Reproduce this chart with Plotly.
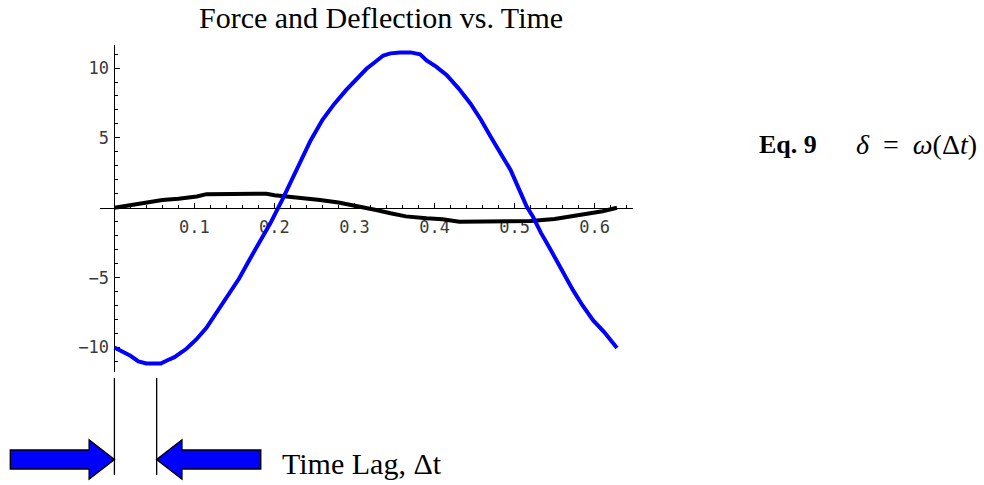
import plotly.graph_objects as go

W, H = 984, 485

# ---- data ---------------------------------------------------------------
t_force = [0.000, 0.010, 0.020, 0.030, 0.040, 0.050, 0.058, 0.065, 0.075,
           0.090, 0.102, 0.115, 0.127, 0.140, 0.156, 0.170, 0.185, 0.195,
           0.210, 0.231, 0.245, 0.260, 0.275, 0.290, 0.305, 0.315, 0.325,
           0.336, 0.345, 0.357, 0.370, 0.382, 0.390, 0.402, 0.415, 0.430,
           0.445, 0.458, 0.470, 0.483, 0.495, 0.505, 0.515, 0.523, 0.533,
           0.544, 0.558, 0.573, 0.585, 0.598, 0.612, 0.628]
force = [-10.0, -10.3, -10.6, -11.0, -11.15, -11.15, -11.15, -10.95, -10.7,
         -10.1, -9.45, -8.6, -7.55, -6.4, -5.05, -3.6, -2.05, -1.1,
         0.6, 3.2, 4.8, 6.3, 7.45, 8.45, 9.3, 9.95, 10.4,
         10.9, 11.05, 11.12, 11.12, 10.98, 10.55, 10.1, 9.5, 8.55,
         7.45, 6.3, 5.1, 3.9, 2.7, 1.4, 0.1, -0.65, -1.8,
         -2.9, -4.4, -5.9, -7.0, -8.05, -8.9, -10.05]

t_defl = [0.000, 0.020, 0.040, 0.060, 0.080, 0.103, 0.115, 0.140, 0.165,
          0.190, 0.200, 0.230, 0.257, 0.280, 0.299, 0.327, 0.345, 0.364,
          0.390, 0.410, 0.431, 0.460, 0.490, 0.520, 0.550, 0.587, 0.610,
          0.628]
deflection = [0.0, 0.2, 0.4, 0.55, 0.65, 0.8, 0.97, 1.0, 1.0,
              1.0, 0.9, 0.75, 0.55, 0.38, 0.19, -0.16, -0.4, -0.62,
              -0.75, -0.82, -1.0, -1.0, -1.0, -0.95, -0.8, -0.47, -0.25,
              0.0]

x_ticks = [0.1, 0.2, 0.3, 0.4, 0.5, 0.6]
x_tick_text = ["0.1", "0.2", "0.3", "0.4", "0.5", "0.6"]
y_ticks = [-10, -5, 5, 10]
y_tick_text = ["\u221210", "\u22125", "5", "10"]

time_lag = 0.0528

# ---- layout geometry ----------------------------------------------------
x_range = [-0.018, 0.648]
y_range = [-11.76, 11.65]
x_dom = [100 / W, 633 / W]
y_dom = [1 - 372 / H, 1 - 45 / H]

# axes cross at the origin
x_axis_pos = y_dom[0] + (0 - y_range[0]) / (y_range[1] - y_range[0]) * (y_dom[1] - y_dom[0])
y_axis_pos = x_dom[0] + (0 - x_range[0]) / (x_range[1] - x_range[0]) * (x_dom[1] - x_dom[0])

# lower strip shares the time scale of the main plot, spanning the full width
t_per_px = (x_range[1] - x_range[0]) / ((x_dom[1] - x_dom[0]) * W)
x2_range = [x_range[0] - x_dom[0] * W * t_per_px,
            x_range[1] + (1 - x_dom[1]) * W * t_per_px]
strip_top = 1 - 376 / H

tick_font = dict(family="DejaVu Sans Mono", size=17, color="#3a3a3a")
serif = "Liberation Serif"

fig = go.Figure()

fig.add_trace(go.Scatter(x=t_defl, y=deflection, mode="lines",
                         line=dict(color="black", width=4),
                         xaxis="x", yaxis="y", showlegend=False))
fig.add_trace(go.Scatter(x=t_force, y=force, mode="lines",
                         line=dict(color="#0000FF", width=4),
                         xaxis="x", yaxis="y", showlegend=False))

# ---- time-lag markers in the lower strip -------------------------------
shapes = []
for tx in (0.0, time_lag):
    shapes.append(dict(type="line", xref="x2", yref="y2",
                       x0=tx, x1=tx, y0=0.092, y1=0.982,
                       line=dict(color="black", width=1.3)))

yc, sh, hh = 0.234, 0.087, 0.179
head, tail = 0.0315, 0.130
left_arrow = (f"M {-tail},{yc - sh} L {-head},{yc - sh} L {-head},{yc - hh} "
              f"L 0,{yc} L {-head},{yc + hh} L {-head},{yc + sh} L {-tail},{yc + sh} Z")
r0 = time_lag
right_arrow = (f"M {r0 + tail},{yc - sh} L {r0 + head},{yc - sh} L {r0 + head},{yc - hh} "
               f"L {r0},{yc} L {r0 + head},{yc + hh} L {r0 + head},{yc + sh} L {r0 + tail},{yc + sh} Z")
for p in (left_arrow, right_arrow):
    shapes.append(dict(type="path", xref="x2", yref="y2", path=p,
                       fillcolor="#0000FF", line=dict(color="black", width=1.5)))

annotations = [
    dict(text="Time Lag, \u0394t", xref="x2", yref="paper",
         x=0.207, y=1 - 463 / H, xanchor="left", yanchor="middle",
         showarrow=False, font=dict(family=serif, size=30, color="black")),
    dict(text="<b>Eq. 9</b>", xref="paper", yref="paper",
         x=757 / W, y=1 - 144 / H, xanchor="left", yanchor="middle",
         showarrow=False, font=dict(family=serif, size=26, color="black")),
    dict(text="<i>\u03b4</i>\u00a0\u00a0=\u00a0\u00a0<i>\u03c9</i>(\u0394<i>t</i>)",
         xref="paper", yref="paper",
         x=854 / W, y=1 - 144 / H, xanchor="left", yanchor="middle",
         showarrow=False, font=dict(family=serif, size=28, color="black")),
]

fig.update_layout(
    width=W, height=H,
    margin=dict(l=0, r=0, t=0, b=0),
    paper_bgcolor="white", plot_bgcolor="white",
    title=dict(text="Force and Deflection vs. Time", xref="paper", yref="paper",
               x=199 / W, xanchor="left", y=1 - 17 / H, yanchor="middle",
               font=dict(family=serif, size=30, color="black")),
    xaxis=dict(domain=x_dom, range=x_range, anchor="free", position=x_axis_pos,
               showgrid=False, zeroline=False, showline=True,
               linecolor="black", linewidth=1,
               tickmode="array", tickvals=x_ticks, ticktext=x_tick_text,
               ticks="inside", ticklen=5, tickwidth=1, tickcolor="black",
               ticklabelstandoff=4, tickfont=tick_font, layer="below traces",
               minor=dict(tickmode="linear", tick0=0, dtick=0.02, ticks="inside",
                          ticklen=3, tickwidth=1, tickcolor="black", showgrid=False)),
    yaxis=dict(domain=y_dom, range=y_range, anchor="free", position=y_axis_pos,
               showgrid=False, zeroline=False, showline=True,
               linecolor="black", linewidth=1,
               tickmode="array", tickvals=y_ticks, ticktext=y_tick_text,
               ticks="inside", ticklen=5, tickwidth=1, tickcolor="black",
               ticklabelstandoff=2, tickfont=tick_font, layer="below traces",
               minor=dict(tickmode="linear", tick0=0, dtick=1, ticks="inside",
                          ticklen=3, tickwidth=1, tickcolor="black", showgrid=False)),
    xaxis2=dict(domain=[0, 1], range=x2_range, anchor="y2", visible=False),
    yaxis2=dict(domain=[0, strip_top], range=[0, 1], anchor="x2", visible=False),
    shapes=shapes,
    annotations=annotations,
    showlegend=False,
)

fig.write_html("out.html", config=dict(displayModeBar=False))
